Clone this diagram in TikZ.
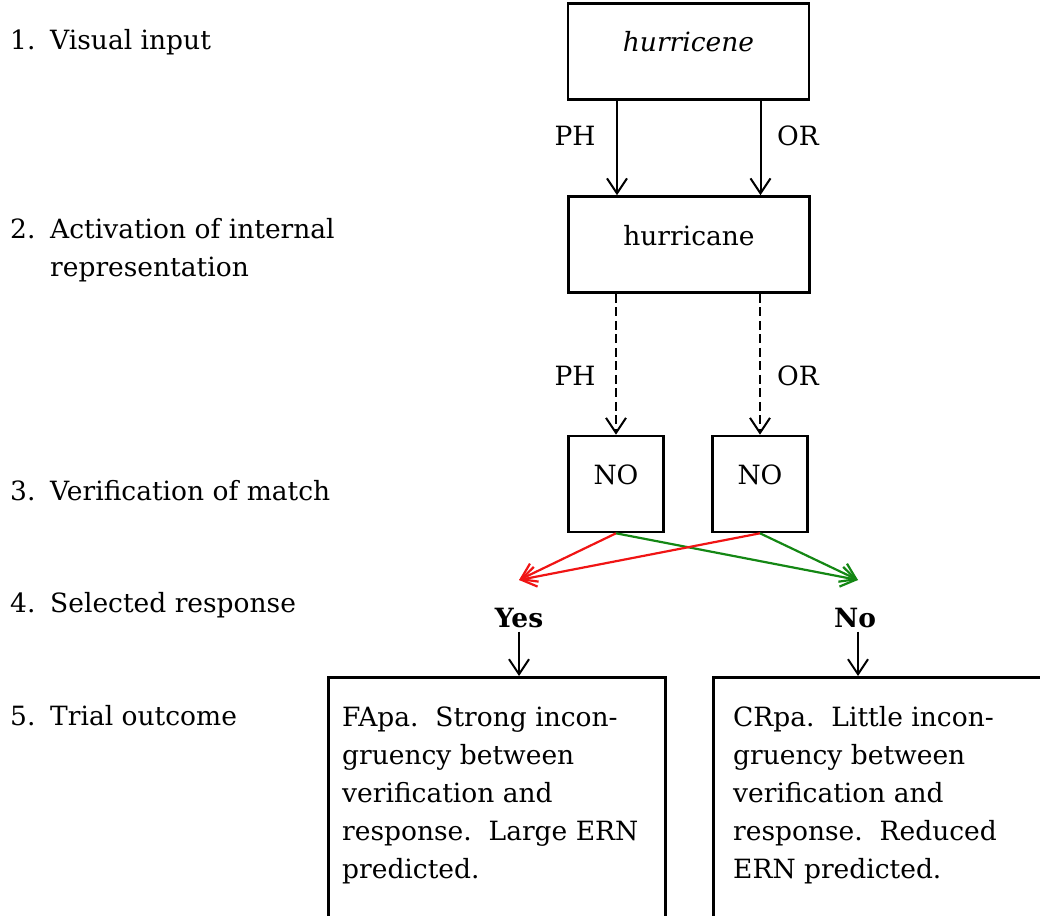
\documentclass[tikz,border=0pt]{standalone}
\usepackage{fontspec}
\setmainfont{DejaVu Serif}
\usetikzlibrary{positioning}
\usetikzlibrary{arrows.meta}
\definecolor{yesred}{RGB}{240,20,20}
\definecolor{nogreen}{RGB}{20,135,20}
\tikzset{
    stagebox/.style = {rectangle, draw=black, line width=2.6pt, minimum width=241pt, minimum height=96pt, inner sep=0pt},
    matchbox/.style = {rectangle, draw=black, line width=2.6pt, minimum width=95pt, minimum height=96pt, inner sep=0pt},
    outbox/.style = {rectangle, draw=black, line width=2.6pt, anchor=north west, minimum height=300pt, inner sep=0pt},
    txt/.style = {inner sep=0pt, anchor=base},
    txtl/.style = {inner sep=0pt, anchor=base west, align=left},
    edgen/.style = {-{Straight Barb[length=15pt,width=20pt]}, line width=2pt},
    edged/.style = {edgen, dash pattern=on 9pt off 4.5pt},
    edger/.style = {edgen, yesred, line width=2.2pt},
    edgeg/.style = {edgen, nogreen, line width=2.2pt},
}

\begin{document}
\begin{tikzpicture}[x=1pt,y=-1pt,every node/.style={font=\fontsize{26.5}{38}\selectfont}]
\useasboundingbox (0,0) rectangle (1040,915);
\clip (0,0) rectangle (1040,915);
%
% stages on the left
\node[txtl] (n1) at (10,50) {1.};
\node[txtl] (s1) at (50,50) {Visual input};
\node[txtl] (n2) at (10,238) {2.};
\node[txtl] (s2) at (50,276) {Activation of internal\\ representation};
\node[txtl] (n3) at (10,500) {3.};
\node[txtl] (s3) at (50,500) {Verification of match};
\node[txtl] (n4) at (10,612) {4.};
\node[txtl] (s4) at (50,612) {Selected response};
\node[txtl] (n5) at (10,725) {5.};
\node[txtl] (s5) at (50,725) {Trial outcome};
%
% boxes
\node[stagebox] at (688.5,51.5) (input) {};
\node[txt] at (688.5,52) (inputw) {\textit{hurricene}};
\node[stagebox] at (689,244.5) (lex) {};
\node[txt] at (689,245) (lexw) {hurricane};
\node[matchbox] at (616,484) (noa) {};
\node[txt] at (616,484) (noaw) {NO};
\node[matchbox] at (760,484) (nob) {};
\node[txt] at (760,484) (nobw) {NO};
%
% routes
\node[txt] at (575,145) (ph1) {PH};
\node[txt] at (798,145) (or1) {OR};
\node[txt] at (575,385) (ph2) {PH};
\node[txt] at (798,385) (or2) {OR};
%
% responses
\coordinate (yestip) at (519,580);
\coordinate (notip) at (858,580);
\node[txt] at (519,627) (yes) {\textbf{Yes}};
\node[txt] at (855,627) (no) {\textbf{No}};
%
% outcomes
\node[outbox, minimum width=337pt] at (327,676) (fa) {};
\node[txtl] at (342,878) (fatext) {FApa.\ \ Strong incon-\\gruency between\\verification and\\response.\ \ Large ERN\\predicted.};
\node[outbox, minimum width=400pt] at (712,676) (cr) {};
\node[txtl] at (733,878) (crtext) {CRpa.\ \ Little incon-\\gruency between\\verification and\\response.\ \ Reduced\\ERN predicted.};
%
\draw[edgen] ([xshift=-71.5pt]input.south) -- ([xshift=-72pt]lex.north);
\draw[edgen] ([xshift=72pt]input.south) -- ([xshift=71.5pt]lex.north);
\draw[edged] ([xshift=-73pt]lex.south) -- (noa.north);
\draw[edged] ([xshift=71pt]lex.south) -- (nob.north);
\draw[edger] (noa.south) -- (yestip);
\draw[edgeg] (noa.south) -- (notip);
\draw[edger] (nob.south) -- (yestip);
\draw[edgeg] (nob.south) -- (notip);
\draw[edgen] ([yshift=-4pt]yes.south) -- (yes.south |- fa.north);
\draw[edgen] ([yshift=-4pt]no.south -| notip) -- (notip |- cr.north);
\end{tikzpicture}
\end{document}
